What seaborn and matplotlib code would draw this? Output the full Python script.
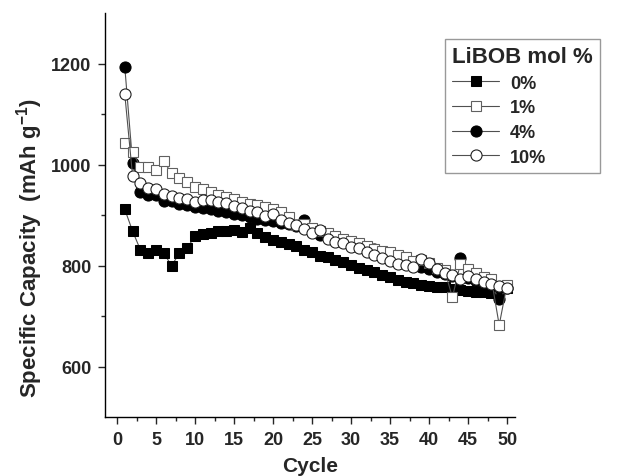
import matplotlib
matplotlib.use('Agg')
import matplotlib.pyplot as plt
import matplotlib.ticker as mtick
import seaborn as sns
import numpy as np

# cycle numbers
cycles = np.arange(1, 51)

# specific capacity (mAh/g) per LiBOB content
cap_0 = [911, 868, 831, 824, 830, 824, 800, 824, 835, 858,
         862, 865, 868, 869, 871, 866, 874, 865, 857, 850,
         846, 842, 838, 831, 827, 819, 816, 811, 807, 801,
         795, 791, 787, 781, 777, 772, 768, 766, 761, 760,
         758, 757, 754, 752, 749, 748, 747, 746, 742, 755]
cap_1 = [1042, 1025, 995, 995, 989, 1006, 983, 973, 966, 956,
         952, 946, 939, 936, 931, 925, 922, 920, 915, 911,
         906, 896, 880, 882, 875, 869, 865, 859, 852, 848,
         844, 839, 833, 828, 827, 821, 817, 809, 810, 804,
         795, 791, 737, 802, 793, 786, 778, 773, 682, 762]
cap_4 = [1193, 1003, 945, 939, 939, 927, 927, 921, 919, 916,
         914, 911, 908, 905, 902, 900, 896, 893, 890, 888,
         885, 882, 878, 890, 866, 860, 857, 852, 847, 842,
         838, 834, 832, 820, 815, 810, 806, 800, 797, 793,
         788, 784, 780, 814, 775, 770, 765, 760, 733, 756]
cap_10 = [1139, 977, 963, 954, 951, 942, 938, 934, 931, 926,
          929, 929, 925, 923, 917, 914, 908, 905, 898, 902,
          891, 885, 880, 873, 865, 870, 853, 847, 844, 836,
          834, 827, 820, 814, 809, 803, 801, 797, 812, 804,
          794, 786, 781, 774, 780, 774, 768, 764, 760, 756]

labels = ["0%", "1%", "4%", "10%"]

sns.set_style("ticks")
plt.rcParams['font.family'] = ['Liberation Sans', 'DejaVu Sans']
plt.rcParams['font.weight'] = 'bold'
plt.rcParams['mathtext.fontset'] = 'custom'
plt.rcParams['mathtext.bf'] = 'Liberation Sans:bold'
plt.rcParams['mathtext.rm'] = 'Liberation Sans:bold'

fig = plt.figure(figsize=(6.4, 4.77), dpi=100)
# x: 0 -> 117 px, 50 -> 507 px ; y: 500 -> 418 px, 1300 -> 14 px
ax = fig.add_axes([105.3 / 640, 1 - 418 / 477, 409.5 / 640, 404 / 477])

line_kw = dict(color="#505050", linewidth=0.8, ax=ax)
sns.lineplot(x=cycles, y=cap_0, marker="s", markersize=7, markerfacecolor="black",
             markeredgecolor="black", label=labels[0], **line_kw)
sns.lineplot(x=cycles, y=cap_4, marker="o", markersize=8, markerfacecolor="black",
             markeredgecolor="black", label=labels[2], **line_kw)
sns.lineplot(x=cycles, y=cap_1, marker="s", markersize=7, markerfacecolor="white",
             markeredgecolor="#606060", markeredgewidth=0.8, label=labels[1], **line_kw)
sns.lineplot(x=cycles, y=cap_10, marker="o", markersize=8, markerfacecolor="white",
             markeredgecolor="#202020", markeredgewidth=0.8, label=labels[3], **line_kw)

ax.set_xlim(-1.5, 51)
ax.set_ylim(500, 1300)
ax.xaxis.set_major_locator(mtick.MultipleLocator(5))
ax.xaxis.set_minor_locator(mtick.MultipleLocator(2.5))
ax.yaxis.set_major_locator(mtick.MultipleLocator(200))
ax.yaxis.set_minor_locator(mtick.FixedLocator([700, 900, 1100]))
ax.tick_params(which="major", direction="out", length=5, width=1, labelsize=13, pad=5)
ax.tick_params(which="minor", direction="out", length=3, width=1)
for lab in ax.get_xticklabels() + ax.get_yticklabels():
    lab.set_fontweight("bold")
sns.despine(ax=ax)
for side in ["left", "bottom"]:
    ax.spines[side].set_linewidth(1)
    ax.spines[side].set_color("black")

ax.set_xlabel("Cycle", fontsize=15, fontweight="bold", labelpad=6)
ax.set_ylabel(r"Specific Capacity  (mAh g$^{\mathbf{-1}}$)", fontsize=16,
              fontweight="bold")
ax.yaxis.set_label_coords(-0.147, 0.42)

# legend in the original order
handles, labs = ax.get_legend_handles_labels()
order = [labs.index(l) for l in labels]
leg = ax.legend([handles[i] for i in order], [labs[i] for i in order],
                title="LiBOB mol %", loc="upper left",
                bbox_to_anchor=(445 / 640, 1 - 40 / 477), bbox_transform=fig.transFigure,
                borderaxespad=0, fancybox=False, frameon=True, handlelength=2.6,
                prop={"size": 13, "weight": "bold"},
                title_fontproperties={"size": 16, "weight": "bold"},
                labelspacing=0.42, borderpad=0.4, handletextpad=0.6)
leg._legend_box.align = "left"
leg.get_frame().set_edgecolor("#808080")
leg.get_frame().set_linewidth(1)

fig.savefig("out.png", dpi=100)
